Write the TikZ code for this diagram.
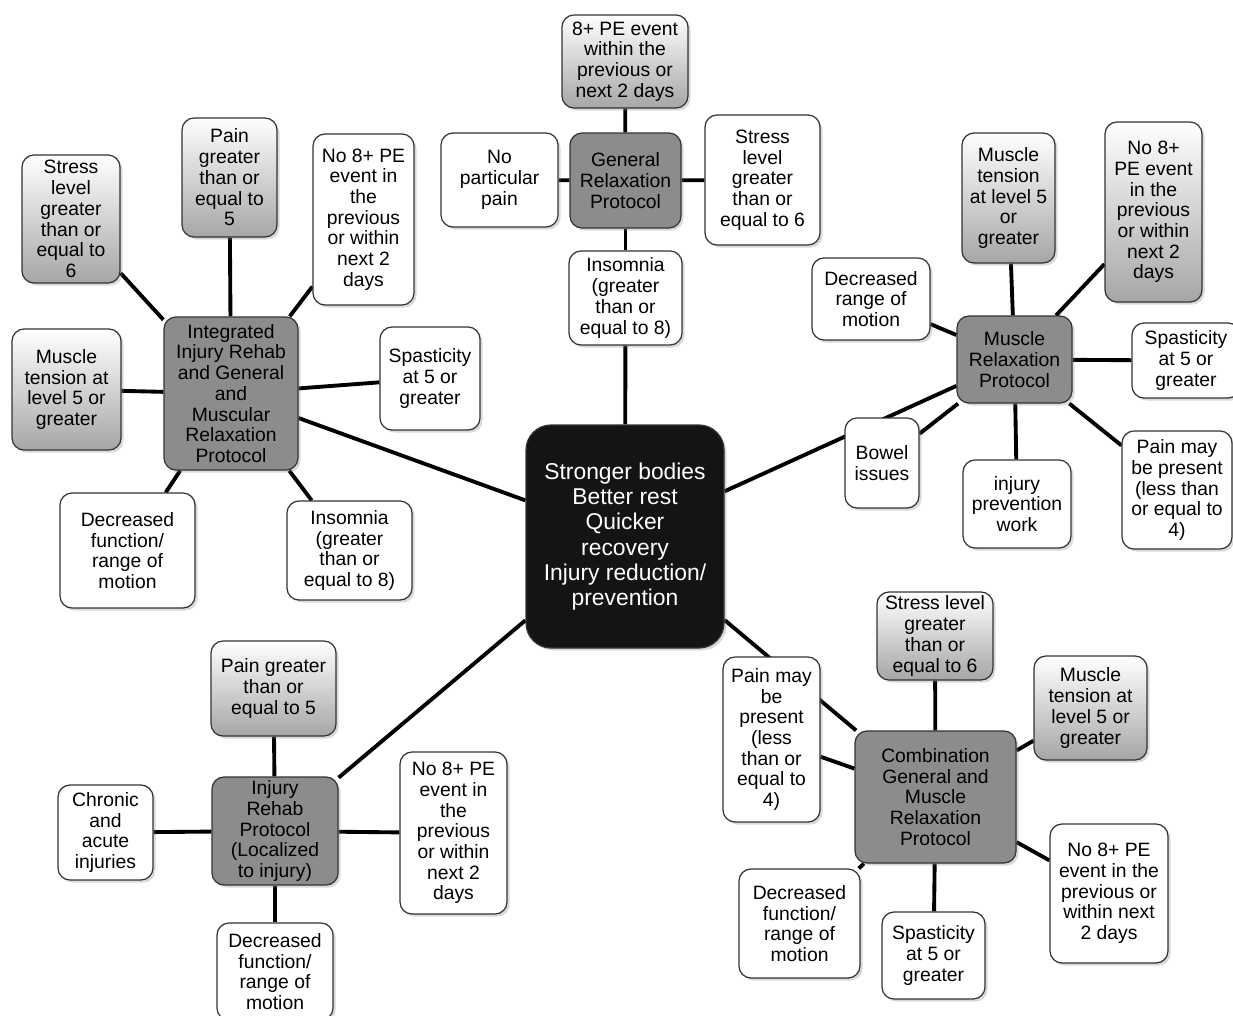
\documentclass[tikz,border=0pt]{standalone}
\usepackage{fontspec}
\setmainfont{Liberation Sans}
\usetikzlibrary{backgrounds, shadows}

\begin{document}
\begin{tikzpicture}[x=0.02cm, y=-0.02cm,
    box/.style={draw=black!80, line width=0.7pt, rounded corners=0.24cm, align=center, inner sep=0pt,
      font=\fontsize{11}{11.8}\selectfont,
      drop shadow={shadow xshift=0.05cm, shadow yshift=-0.05cm, opacity=0.3}},
    leaf/.style={box, fill=white},
    cue/.style={box, top color=white, bottom color=black!35},
    proto/.style={box, fill=black!45},
    hub/.style={box, fill=black!92, text=white, rounded corners=0.5cm, font=\fontsize{13}{14.4}\selectfont},
    dims/.style 2 args={minimum width=#1*0.02cm, minimum height=#2*0.02cm},
    link/.style={line width=2.2pt}]
  %tikz  protocols map
  \useasboundingbox (0,0) rectangle (1233,1015);

  \node[hub, dims={198}{223}] (out) at (625,536.5) {Stronger bodies\\Better rest\\Quicker\\recovery\\Injury reduction/\\prevention};

  % general relaxation
  \node[proto, dims={111}{95}] (gen) at (625.5,180.5) {General\\Relaxation\\Protocol};
  \node[cue, dims={126}{93}] (gen-pe) at (625,61.5) {8+ PE event\\within the\\previous or\\next 2 days};
  \node[leaf, dims={117}{94}] (gen-pain) at (499.5,180) {No\\particular\\pain};
  \node[leaf, dims={115}{130}] (gen-stress) at (762.5,180) {Stress\\level\\greater\\than or\\equal to 6};
  \node[leaf, dims={113}{94}] (gen-sleep) at (625.5,298) {Insomnia\\(greater\\than or\\equal to 8)};

  % integrated
  \node[proto, dims={134}{153}] (int) at (231,393.5) {Integrated\\Injury Rehab\\and General\\and\\Muscular\\Relaxation\\Protocol};
  \node[cue, dims={98}{128}] (int-stress) at (71,219) {Stress\\level\\greater\\than or\\equal to\\6};
  \node[cue, dims={95}{119}] (int-pain) at (229.5,177.5) {Pain\\greater\\than or\\equal to\\5};
  \node[leaf, dims={101}{171}] (int-pe) at (363.5,219.5) {No 8+ PE\\event in\\the\\previous\\or within\\next 2\\days};
  \node[cue, dims={109}{121}] (int-tension) at (66.5,389.5) {Muscle\\tension at\\level 5 or\\greater};
  \node[leaf, dims={100}{103}] (int-spas) at (430,378.5) {Spasticity\\at 5 or\\greater};
  \node[leaf, dims={135}{115}] (int-func) at (127.5,550.5) {Decreased\\function/\\range of\\motion};
  \node[leaf, dims={125}{99}] (int-sleep) at (349.5,550.5) {Insomnia\\(greater\\than or\\equal to 8)};

  % muscle relaxation
  \node[proto, dims={115}{87}] (mus) at (1014.5,359.5) {Muscle\\Relaxation\\Protocol};
  \node[cue, dims={93}{130}] (mus-tension) at (1008.5,198) {Muscle\\tension\\at level 5\\or\\greater};
  \node[cue, dims={97}{180}] (mus-pe) at (1153.5,212) {No 8+\\PE event\\in the\\previous\\or within\\next 2\\days};
  \node[leaf, dims={118}{82}] (mus-range) at (871,299) {Decreased\\range of\\motion};
  \node[leaf, dims={108}{75}] (mus-spas) at (1186,360.5) {Spasticity\\at 5 or\\greater};
  \node[leaf, dims={74}{90}] (mus-bowel) at (882,463) {Bowel\\issues};
  \node[leaf, dims={108}{88}] (mus-injury) at (1017,504) {injury\\prevention\\work};
  \node[leaf, dims={110}{118}] (mus-pain) at (1177,490) {Pain may\\be present\\(less than\\or equal to\\4)};

  % injury rehab
  \node[proto, dims={126}{108}] (reh) at (275,831) {Injury\\Rehab\\Protocol\\(Localized\\to injury)};
  \node[cue, dims={125}{95}] (reh-pain) at (273.5,688.5) {Pain greater\\than or\\equal to 5};
  \node[leaf, dims={95}{95}] (reh-kind) at (105.5,832.5) {Chronic\\and\\acute\\injuries};
  \node[leaf, dims={107}{162}] (reh-pe) at (453.5,833) {No 8+ PE\\event in\\the\\previous\\or within\\next 2\\days};
  \node[leaf, dims={116}{97}] (reh-func) at (275,971.5) {Decreased\\function/\\range of\\motion};

  % combination
  \node[proto, dims={161}{132}] (com) at (935.5,797) {Combination\\General and\\Muscle\\Relaxation\\Protocol};
  \node[cue, dims={116}{88}] (com-stress) at (935,636) {Stress level\\greater\\than or\\equal to 6};
  \node[cue, dims={113}{104}] (com-tension) at (1090.5,708) {Muscle\\tension at\\level 5 or\\greater};
  \node[leaf, dims={97}{165}] (com-pain) at (771.5,739.5) {Pain may\\be\\present\\(less\\than or\\equal to\\4)};
  \node[leaf, dims={118}{139}] (com-pe) at (1109,893.5) {No 8+ PE\\event in the\\previous or\\within next\\2 days};
  \node[leaf, dims={121}{109}] (com-func) at (799.5,923.5) {Decreased\\function/\\range of\\motion};
  \node[leaf, dims={103}{87}] (com-spas) at (933.5,955.5) {Spasticity\\at 5 or\\greater};

  \begin{scope}[on background layer]
    \foreach \a/\b in {gen/gen-pe, gen/gen-pain, gen/gen-stress, gen/gen-sleep, gen-sleep/out,
        int/out, int/int-stress, int/int-pain, int/int-pe, int/int-tension, int/int-spas, int/int-func, int/int-sleep,
        out/mus, mus/mus-tension, mus/mus-pe, mus/mus-range, mus/mus-spas, mus/mus-bowel, mus/mus-injury, mus/mus-pain,
        out/reh, reh/reh-pain, reh/reh-kind, reh/reh-pe, reh/reh-func,
        out/com, com/com-stress, com/com-tension, com/com-pain, com/com-pe, com/com-func, com/com-spas}
      \draw[link] (\a) -- (\b);
  \end{scope}
\end{tikzpicture}
\end{document}
